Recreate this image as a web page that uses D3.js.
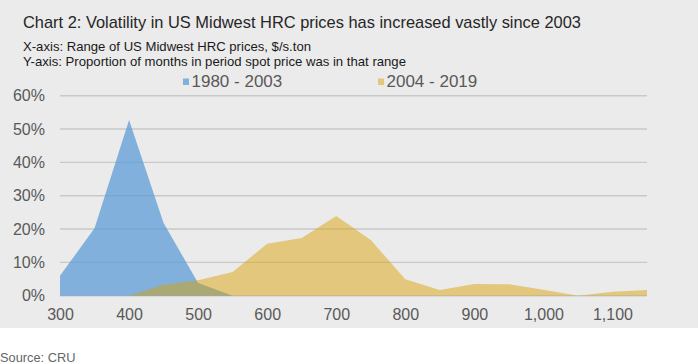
<!DOCTYPE html>
<html>
<head>
<meta charset="UTF-8">
<title>Chart 2: Volatility in US Midwest HRC prices</title>
<script src="https://d3js.org/d3.v7.min.js"></script>
<style>
    body { margin: 0; background: #fff; }
    text { font-family: "Liberation Sans", Arial, sans-serif; }
</style>
</head>
<body>
<div id="chart"></div>
<script>
    // price buckets, $/s.ton
    const prices = [300, 350, 400, 450, 500, 550, 600, 650, 700, 750, 800, 850, 900, 950, 1000, 1050, 1100, 1150];
    // share of months in each bucket, %
    const early = [6, 20.2, 52.7, 21.8, 3.8, 0, 0, 0, 0, 0, 0, 0, 0, 0, 0, 0, 0, 0];
    const late = [0, 0, 0, 3.3, 4.6, 7.1, 15.6, 17.3, 23.9, 16.7, 4.9, 1.7, 3.5, 3.4, 1.8, 0, 1.2, 1.7];
    const seriesNames = ["1980 - 2003", "2004 - 2019"];
    const xTicks = [300, 400, 500, 600, 700, 800, 900, 1000, 1100];
    const yTicks = [0, 10, 20, 30, 40, 50, 60];

    const width = 698, height = 364;
    const svg = d3.select('#chart').append('svg')
        .attr('width', width)
        .attr('height', height);

    svg.append('rect')
        .attr('width', width)
        .attr('height', 328)
        .attr('fill', '#ebebeb');

    const x = d3.scaleLinear().domain([300, 1150]).range([60, 647]);
    const y = d3.scaleLinear().domain([0, 60]).range([295.7, 95.7]);

    // gridlines
    svg.append('g')
        .selectAll('line')
        .data(yTicks)
        .join('line')
        .attr('x1', x(300))
        .attr('x2', x(1150))
        .attr('y1', d => y(d))
        .attr('y2', d => y(d))
        .attr('stroke', '#c9c9c9')
        .attr('stroke-width', 1.4);

    const area = vals => d3.area()
        .x((d, i) => x(prices[i]))
        .y0(y(0))
        .y1(d => y(d))(vals);

    svg.append('path')
        .attr('d', area(early))
        .attr('fill', '#5b9bd5')
        .attr('fill-opacity', 0.74);

    svg.append('path')
        .attr('d', area(late))
        .attr('fill', '#d8a000')
        .attr('fill-opacity', 0.47);

    // y axis
    const yAxis = svg.append('g')
        .attr('transform', 'translate(45,0)')
        .call(d3.axisLeft(y).tickValues(yTicks).tickSize(0).tickPadding(0).tickFormat(d => d + '%'));
    yAxis.select('.domain').remove();
    yAxis.selectAll('text')
        .attr('font-size', 16)
        .attr('font-family', '"Liberation Sans", Arial, sans-serif')
        .attr('fill', '#595959');

    // x axis
    const xAxis = svg.append('g')
        .attr('transform', 'translate(0,' + y(0) + ')')
        .call(d3.axisBottom(x).tickValues(xTicks).tickSize(0).tickPadding(13).tickFormat(d3.format(',')));
    xAxis.select('.domain').remove();
    xAxis.selectAll('text')
        .attr('font-size', 16)
        .attr('font-family', '"Liberation Sans", Arial, sans-serif')
        .attr('fill', '#595959');

    // titles
    svg.append('text')
        .attr('x', 23)
        .attr('y', 28)
        .attr('font-size', 17)
        .attr('fill', '#262626')
        .attr('textLength', 558)
        .attr('lengthAdjust', 'spacingAndGlyphs')
        .text('Chart 2: Volatility in US Midwest HRC prices has increased vastly since 2003');

    svg.append('text')
        .attr('x', 23)
        .attr('y', 51)
        .attr('font-size', 13)
        .attr('fill', '#1a1a1a')
        .attr('textLength', 288)
        .attr('lengthAdjust', 'spacingAndGlyphs')
        .text('X-axis: Range of US Midwest HRC prices, $/s.ton');

    svg.append('text')
        .attr('x', 23)
        .attr('y', 66)
        .attr('font-size', 13)
        .attr('fill', '#1a1a1a')
        .attr('textLength', 383)
        .attr('lengthAdjust', 'spacingAndGlyphs')
        .text('Y-axis: Proportion of months in period spot price was in that range');

    // legend
    const legendX = [183, 378];
    const legendColors = ['#7fb2da', '#e2c87c'];
    const legend = svg.append('g')
        .selectAll('g')
        .data(seriesNames)
        .join('g')
        .attr('transform', (d, i) => 'translate(' + legendX[i] + ',0)');
    legend.append('rect')
        .attr('x', 0)
        .attr('y', 78.5)
        .attr('width', 6)
        .attr('height', 6.5)
        .attr('fill', (d, i) => legendColors[i]);
    legend.append('text')
        .attr('x', 8.5)
        .attr('y', 87)
        .attr('font-size', 17)
        .attr('fill', '#595959')
        .text(d => d);

    svg.append('text')
        .attr('x', 0)
        .attr('y', 362)
        .attr('font-size', 12.8)
        .attr('fill', '#666666')
        .text('Source: CRU');
</script>
</body>
</html>
